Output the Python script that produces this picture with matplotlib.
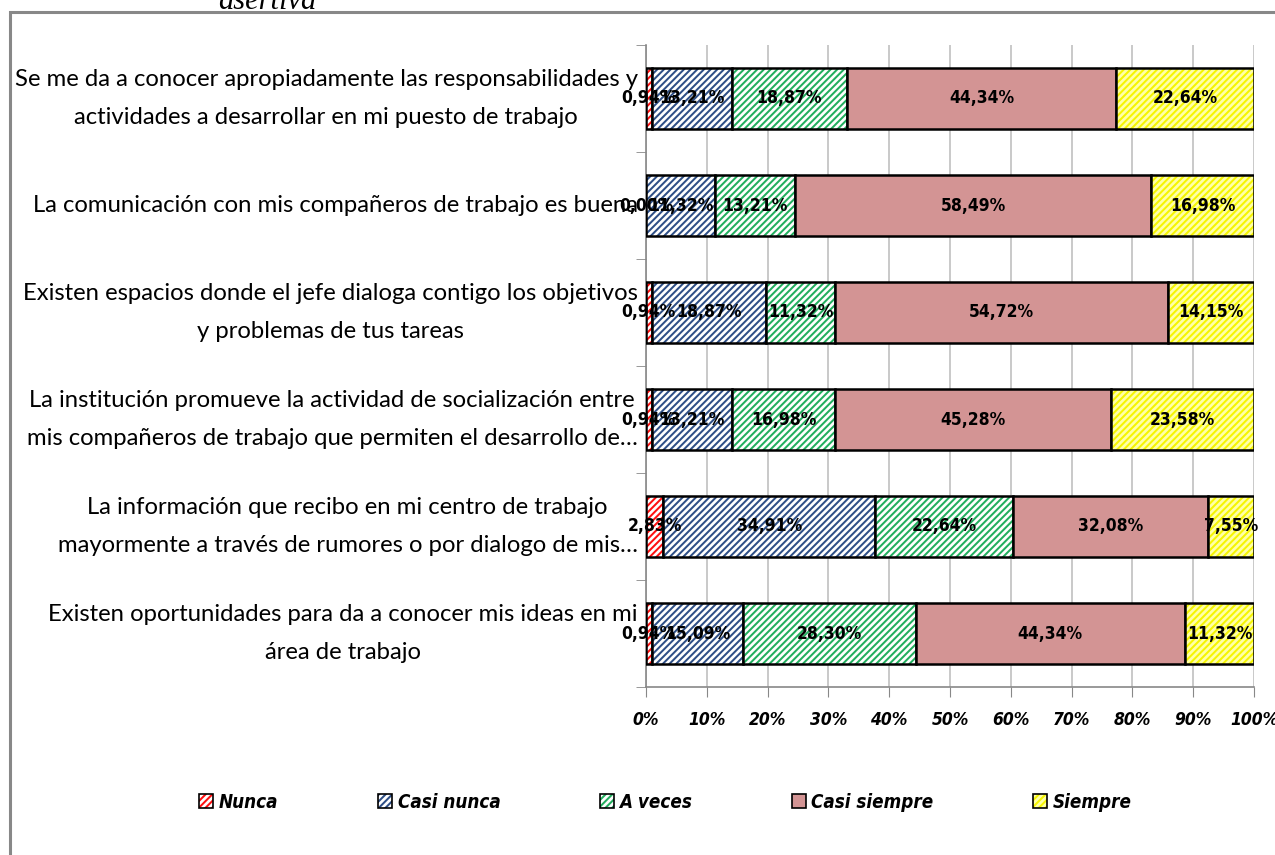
import matplotlib
matplotlib.use("Agg")
import matplotlib.pyplot as plt
import matplotlib.colors as mcolors
from matplotlib.patches import Patch, Rectangle
import numpy as np

categories = [
    "Se me da a conocer apropiadamente las responsabilidades y\nactividades a desarrollar en mi puesto de trabajo",
    "La comunicación con mis compañeros de trabajo es buena",
    "Existen espacios donde el jefe dialoga contigo los objetivos\ny problemas de tus tareas",
    "La institución promueve la actividad de socialización entre\nmis compañeros de trabajo que permiten el desarrollo de…",
    "La información que recibo en mi centro de trabajo\nmayormente a través de rumores o por dialogo de mis…",
    "Existen oportunidades para da a conocer mis ideas en mi\nárea de trabajo",
]
series_names = ["Nunca", "Casi nunca", "A veces", "Casi siempre", "Siempre"]
nunca = [0.94, 0.00, 0.94, 0.94, 2.83, 0.94]
casi_nunca = [13.21, 11.32, 18.87, 13.21, 34.91, 15.09]
a_veces = [18.87, 13.21, 11.32, 16.98, 22.64, 28.30]
casi_siempre = [44.34, 58.49, 54.72, 45.28, 32.08, 44.34]
siempre = [22.64, 16.98, 14.15, 23.58, 7.55, 11.32]
series = [nunca, casi_nunca, a_veces, casi_siempre, siempre]
xtick_labels = ["0%", "10%", "20%", "30%", "40%", "50%", "60%", "70%", "80%", "90%", "100%"]

face_colors = ["#FFFFFF", "#FFFFFF", "#FFFFFF", "#D39494", "#FFFFA8"]
hatch_colors = ["#FF1010", "#2E4F86", "#22AE5E", None, "#F5F500"]
hatches = ["/////", "/////", "/////", None, "/////"]

plt.rcParams["hatch.linewidth"] = 1.45
cond = dict(family="DejaVu Sans", stretch="condensed")

fig = plt.figure(figsize=(12.75, 8.55), dpi=100)
ax = fig.add_axes([646/1275, 1-687/855, (1254-646)/1275, (687-45)/855])

n = len(categories)
y = np.arange(n)
left = np.zeros(n)

def style_patch(p, fc, hc, h):
    p.set_facecolor(fc)
    p.set_edgecolor("black")
    p.set_linewidth(1.8)
    if h:
        p.set_hatch(h)
        p._hatch_color = mcolors.to_rgba(hc)

for vals, name, fc, hc, h in zip(series, series_names, face_colors, hatch_colors, hatches):
    vals = np.array(vals)
    bars = ax.barh(y, vals, left=left, height=0.57, zorder=3)
    for b in bars:
        style_patch(b, fc, hc, h)
    for yi, v, l in zip(y, vals, left):
        ax.text(l + v/2, yi, f"{v:.2f}%".replace(".", ","), ha="center", va="center",
                fontsize=12.5, fontweight="bold", zorder=5, **cond)
    left = left + vals

ax.set_xlim(0, 100)
ax.set_ylim(n - 0.5, -0.5)
ax.set_xticks(np.arange(0, 101, 10))
ax.set_xticklabels(xtick_labels, fontsize=12.5, fontweight="bold", style="italic", **cond)
ax.set_yticks(y)
ax.set_yticklabels(categories, fontsize=17.2, multialignment="center", family="Lato",
                   linespacing=1.95)
for lbl in ax.get_yticklabels():
    lbl.set_verticalalignment("center")
ax.tick_params(axis="y", length=0, pad=6)
ax.set_yticks(np.arange(-0.5, n + 0.5, 1), minor=True)
ax.tick_params(axis="y", which="minor", length=7, color="#888888", direction="out")
ax.tick_params(axis="x", length=7, color="#888888", direction="out", pad=10)
ax.grid(axis="x", color="#C0C0C0", linewidth=1.2, zorder=0)
for s in ["top", "right"]:
    ax.spines[s].set_visible(False)
for s in ["left", "bottom"]:
    ax.spines[s].set_color("#888888")
    ax.spines[s].set_linewidth(1.2)

handles = []
for name, fc, hc, h in zip(series_names, face_colors, hatch_colors, hatches):
    p = Patch(label=name)
    style_patch(p, fc, hc, h)
    p.set_linewidth(1.2)
    handles.append(p)
leg = fig.legend(handles=handles, loc="center", bbox_to_anchor=(0.522, 1-802/855), ncol=5,
                 frameon=False, columnspacing=5.3, handlelength=0.75, handleheight=0.85,
                 handletextpad=0.3,
                 prop={"family": "DejaVu Sans", "stretch": "condensed", "size": 13.5,
                       "style": "italic", "weight": "bold"})

# outer frame
fig.add_artist(Rectangle((10/1275, -0.1), 1.2, 1 - 12/855 + 0.1, transform=fig.transFigure,
                         fill=False, edgecolor="#888888", linewidth=2.2))
fig.text(267/1275, 1-9/855, "asertiva", ha="center", va="baseline", family="Liberation Serif",
         style="italic", fontsize=22)

fig.savefig("out.png", dpi=100)
